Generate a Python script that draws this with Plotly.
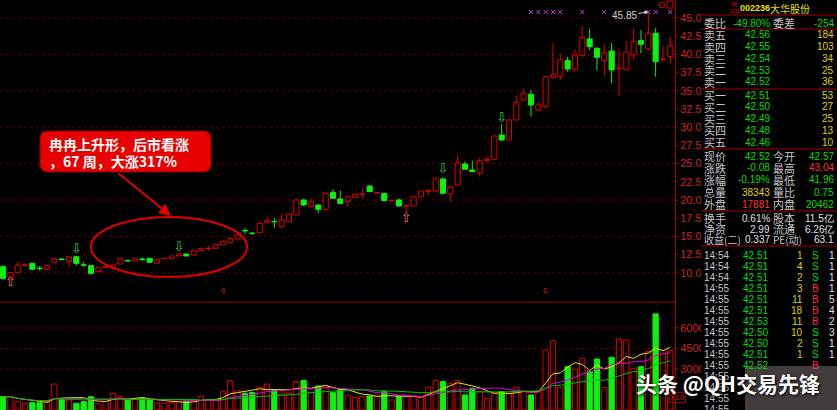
import plotly.graph_objects as go
import pandas as pd

W, H = 837, 410
CJK = "Noto Sans CJK SC"
NUM = "Liberation Sans"

# ---------------- data ----------------
opens = [10.84, 9.38, 10.02, 11.00, 11.30, 10.65, 10.48, 11.44, 11.90, 11.53,
         12.21, 11.10, 10.98, 10.15, 10.75, 10.70, 11.21, 11.70, 11.62, 11.90,
         11.99, 11.30, 11.96, 11.99, 12.31, 12.58, 12.45, 13.04, 13.30, 13.36,
         13.82, 14.14, 14.64, 15.82, 15.45, 15.51, 16.88, 17.05, 16.33, 17.02,
         17.94, 20.00, 19.08, 19.31, 18.72, 21.06, 20.14, 19.77, 20.37, 20.76,
         21.92, 20.96, 20.92, 19.88, 20.00, 19.16, 19.18, 20.45, 21.20, 21.24,
         22.89, 20.82, 22.06, 24.95, 24.12, 23.67, 25.45, 25.59, 28.93, 28.24,
         30.99, 33.74, 34.52, 32.36, 32.82, 36.85, 36.94, 39.14, 37.95, 39.82,
         42.12, 40.84, 39.14, 40.47, 38.05, 37.95, 39.92, 41.89, 40.74, 42.90,
         39.30, 39.69]
highs = [11.00, 10.10, 11.44, 11.30, 11.35, 10.90, 11.05, 12.10, 12.00, 12.30,
         12.30, 11.50, 11.10, 10.75, 10.90, 11.10, 12.10, 11.80, 12.00, 12.10,
         12.00, 11.90, 12.05, 12.35, 12.65, 12.60, 13.10, 13.45, 13.70, 14.00,
         14.40, 14.80, 15.50, 16.20, 15.60, 16.90, 17.60, 17.50, 18.10, 18.20,
         20.20, 20.10, 20.23, 19.40, 21.00, 21.50, 21.30, 20.50, 20.90, 21.60,
         22.00, 21.10, 21.00, 20.00, 20.20, 19.25, 20.50, 21.30, 21.50, 23.00,
         23.10, 21.90, 26.18, 25.30, 25.40, 25.80, 26.00, 28.90, 30.40, 31.10,
         34.40, 35.34, 35.10, 33.50, 37.00, 41.52, 40.15, 39.69, 40.70, 43.80,
         43.45, 41.00, 41.50, 41.60, 40.70, 41.85, 43.60, 43.35, 45.85, 43.60,
         41.20, 42.43]
lows = [9.10, 9.30, 10.00, 10.90, 10.40, 10.30, 10.45, 11.40, 11.70, 10.84,
        11.00, 10.80, 9.80, 10.10, 10.70, 10.65, 11.20, 11.55, 11.60, 11.60,
        11.40, 11.25, 11.90, 11.95, 12.30, 12.28, 12.40, 13.00, 13.00, 13.30,
        13.80, 14.10, 14.60, 15.30, 15.20, 15.50, 16.85, 16.20, 16.20, 17.00,
        17.90, 19.20, 19.00, 18.20, 18.70, 20.20, 19.50, 19.08, 20.30, 20.20,
        21.10, 20.90, 19.85, 19.80, 19.10, 18.17, 19.15, 20.40, 20.60, 21.20,
        20.90, 19.77, 21.90, 24.20, 23.80, 23.20, 25.10, 25.50, 28.10, 28.20,
        30.90, 33.60, 31.45, 32.20, 32.60, 36.70, 36.50, 37.62, 37.62, 39.70,
        40.60, 37.76, 36.94, 36.03, 34.29, 37.80, 39.23, 40.15, 40.60, 36.94,
        39.00, 38.78]
closes = [9.24, 10.02, 11.07, 11.10, 10.48, 10.58, 10.98, 11.94, 11.82, 12.21,
          11.30, 11.05, 9.93, 10.70, 10.85, 11.07, 11.99, 11.62, 11.94, 11.82,
          11.44, 11.85, 12.00, 12.31, 12.58, 12.31, 13.04, 13.36, 13.36, 13.91,
          14.33, 14.69, 15.19, 15.75, 15.40, 16.80, 17.16, 17.00, 17.25, 18.08,
          20.00, 19.31, 19.77, 18.72, 20.92, 20.23, 19.54, 20.45, 20.82, 20.84,
          21.15, 21.02, 19.91, 19.94, 19.18, 19.22, 20.45, 21.24, 21.28, 22.98,
          20.92, 21.83, 25.13, 24.22, 23.89, 25.40, 25.55, 28.79, 28.24, 30.99,
          33.37, 34.66, 33.05, 33.05, 36.94, 37.27, 39.23, 38.00, 39.92, 42.30,
          41.06, 39.60, 40.23, 37.86, 38.12, 40.29, 41.75, 41.39, 42.90, 39.00,
          39.36, 41.20]
volumes = [975, 975, 610, 490, 535, 535, 610, 1900, 780, 730,
           490, 610, 975, 440, 610, 1220, 975, 730, 780, 854,
           780, 535, 490, 535, 610, 610, 730, 1020, 730, 730,
           1340, 2150, 1415, 1220, 1290, 1660, 1900, 1415, 1220, 1220,
           2075, 2150, 1290, 1755, 1755, 1270, 1515, 1100, 930, 975,
           1025, 975, 1340, 730, 1025, 975, 975, 975, 1660, 2150,
           2075, 1950, 2150, 1100, 1585, 1340, 855, 1220, 1340, 1220,
           1660, 1340, 1100, 1340, 4390, 5075, 1660, 3170, 2980, 3780,
           2805, 3730, 1660, 3855, 5200, 5125, 3050, 3170, 4270, 7030,
           4150, 4340]
idx = list(range(len(opens)))

price_ticks = [10.0, 12.5, 15.0, 17.5, 20.0, 22.5, 25.0, 27.5, 30.0, 32.5, 35.0, 37.5, 40.0, 42.5, 45.0]
price_tick_labels = ["10.00", "12.50", "15.00", "17.50", "20.00", "22.50", "25.00", "27.50",
                     "30.00", "32.50", "35.00", "37.50", "40.00", "42.50", "45.00"]
price_grid = [10, 15, 20, 25, 30, 35, 40, 45]
vol_ticks = [3000, 4500, 6000]
vol_tick_labels = ["30000", "45000", "60000"]

buy_signal_idx = [1, 55]
buy_signal_price = [8.67, 17.49]
sell_signal_idx = [10, 24, 60, 68]
sell_signal_price = [13.13, 13.50, 24.12, 31.22]
top_mark_idx = [72, 73, 74, 75, 76, 79, 82, 88, 89, 91]
month_idx = [30, 74]
month_labels = ["6", "6"]

callout_line1 = "冉冉上升形，后市看涨"
callout_line2 = "，67 周，大涨317%"
watermark = "头条 @QH交易先锋"

stock_code = "002236"
stock_name = "大华股份"
weibi = ["委比", "-49.80%", "委差", "-254"]
ask_labels = ["卖五", "卖四", "卖三", "卖二", "卖一"]
ask_prices = ["42.56", "42.55", "42.54", "42.53", "42.52"]
ask_vols = ["184", "103", "34", "25", "36"]
bid_labels = ["买一", "买二", "买三", "买四", "买五"]
bid_prices = ["42.51", "42.50", "42.49", "42.48", "42.46"]
bid_vols = ["53", "27", "25", "13", "10"]
quote_labels_l = ["现价", "涨跌", "涨幅", "总量", "外盘"]
quote_vals_l = ["42.52", "-0.08", "-0.19%", "38343", "17881"]
quote_labels_r = ["今开", "最高", "最低", "量比", "内盘"]
quote_vals_r = ["42.57", "43.04", "41.96", "0.75", "20462"]
fund_labels_l = ["换手", "净资", "收益(二)"]
fund_vals_l = ["0.61%", "2.99", "0.337"]
fund_labels_r = ["股本", "流通", "PE(动)"]
fund_vals_r = ["11.5亿", "6.26亿", "63.1"]
tick_times = ["14:54", "14:54", "14:54", "14:55", "14:55", "14:55", "14:55", "14:55",
              "14:55", "14:55", "14:55", "14:55", "14:55", "14:55", "14:55"]
tick_prices = ["42.51", "42.51", "42.51", "42.51", "42.51", "42.51", "42.53", "42.50",
               "42.50", "42.51", "42.52", "", "", "", ""]
tick_vols = ["1", "4", "2", "3", "11", "18", "11", "10", "2", "1", "", "", "", "", ""]
tick_sides = ["S", "S", "S", "B", "B", "B", "B", "S", "S", "S", "B", "", "", "", ""]
tick_counts = ["1", "1", "1", "1", "5", "4", "2", "3", "1", "1", "", "", "", "", ""]

# ---------------- styling / layout constants ----------------
RED = "#e00000"
DRED = "#a00000"
GRID = "#5a0000"
GREEN = "#10f010"
TXT_GREEN = "#00dd00"
YELLOW = "#e0d000"
LABEL = "#c8c8c8"
PLOT_R = 675          # right edge of the chart area (px)
SPLIT = 302           # boundary between price and volume panes (px)
X_RANGE = [-0.41, 91.64]
P_RANGE = [5.99, 47.47]
V_RANGE = [0, 7900]


def pxx(x):
    return x / W


def pxy(y):
    return 1 - y / H


def price_at(y):
    return P_RANGE[1] - (P_RANGE[1] - P_RANGE[0]) * y / SPLIT


fig = go.Figure()

up = [c > o for o, c in zip(opens, closes)]

# volume bars
vcol = [("rgba(0,0,0,1)" if u else GREEN) for u in up]
vline = [(RED if u else GREEN) for u in up]
fig.add_trace(go.Bar(x=idx, y=volumes, width=0.72, yaxis="y2",
                     marker=dict(color=vcol, line=dict(color=vline, width=1)),
                     hoverinfo="skip"))
vs = pd.Series(volumes)
for n, col in [(5, "#e8e800"), (10, "#e000e0"), (20, "#00c000")]:
    fig.add_trace(go.Scatter(x=idx, y=vs.rolling(n, min_periods=1).mean(), yaxis="y2",
                             mode="lines", line=dict(color=col, width=1), hoverinfo="skip"))

# candle wicks (segments outside the body)
for flag, col in [(True, RED), (False, GREEN)]:
    wx, wy = [], []
    for i in idx:
        if up[i] != flag:
            continue
        top = max(opens[i], closes[i])
        bot = min(opens[i], closes[i])
        wx += [i, i, None, i, i, None]
        wy += [highs[i], top, None, bot, lows[i], None]
    fig.add_trace(go.Scatter(x=wx, y=wy, mode="lines", line=dict(color=col, width=1),
                             hoverinfo="skip", connectgaps=False))

# candle bodies
body_base = [min(o, c) for o, c in zip(opens, closes)]
body_h = [abs(c - o) for o, c in zip(opens, closes)]
fig.add_trace(go.Bar(x=idx, y=body_h, base=body_base, width=0.7,
                     marker=dict(color=vcol, line=dict(color=vline, width=1)),
                     hoverinfo="skip"))

# signal markers
fig.add_trace(go.Scatter(x=sell_signal_idx, y=sell_signal_price, mode="text", text=["⇩"] * len(sell_signal_idx),
                         textfont=dict(color="#30d030", size=13, family="DejaVu Sans"), hoverinfo="skip"))
fig.add_trace(go.Scatter(x=buy_signal_idx, y=buy_signal_price, mode="text", text=["⇧"] * len(buy_signal_idx),
                         textfont=dict(color="#ff6a6a", size=13, family="DejaVu Sans"), hoverinfo="skip"))
fig.add_trace(go.Scatter(x=top_mark_idx, y=[price_at(12)] * len(top_mark_idx), mode="markers",
                         marker=dict(symbol="x-thin-open", size=4, color="#c040d0",
                                     line=dict(width=1, color="#c040d0")), hoverinfo="skip"))

shapes = []
for g in price_grid:
    shapes.append(dict(type="line", xref="paper", yref="y", x0=0, x1=pxx(PLOT_R), y0=g, y1=g,
                       line=dict(color=GRID, width=1, dash="dot"), layer="below"))
for g in vol_ticks:
    shapes.append(dict(type="line", xref="paper", yref="y2", x0=0, x1=pxx(PLOT_R), y0=g, y1=g,
                       line=dict(color=GRID, width=1, dash="dot"), layer="below"))
shapes.append(dict(type="line", xref="paper", yref="paper", x0=0, x1=pxx(PLOT_R),
                   y0=pxy(SPLIT), y1=pxy(SPLIT), line=dict(color=DRED, width=1)))

# order book panel
shapes.append(dict(type="rect", xref="paper", yref="paper", x0=pxx(701), x1=1, y0=0, y1=1,
                   fillcolor="black", line=dict(width=0), layer="above"))
for ly in [15, 29, 89, 149, 211, 246]:
    shapes.append(dict(type="line", xref="paper", yref="paper", x0=pxx(701), x1=1,
                       y0=pxy(ly), y1=pxy(ly), line=dict(color=DRED, width=1), layer="above"))

# top-right small markers
shapes.append(dict(type="circle", xref="paper", yref="paper", x0=pxx(659), x1=pxx(665),
                   y0=pxy(8), y1=pxy(2), line=dict(color=RED, width=1), layer="above"))
shapes.append(dict(type="rect", xref="paper", yref="paper", x0=pxx(667), x1=pxx(673),
                   y0=pxy(8), y1=pxy(1), line=dict(color=RED, width=1), layer="above"))

# callout rounded box
bx0, bx1, by0, by1, r = 40, 211, 131, 172, 8


def P(x, y):
    return f"{pxx(x):.5f},{pxy(y):.5f}"


path = (f"M {P(bx0 + r, by0)} L {P(bx1 - r, by0)} Q {P(bx1, by0)} {P(bx1, by0 + r)} "
        f"L {P(bx1, by1 - r)} Q {P(bx1, by1)} {P(bx1 - r, by1)} L {P(bx0 + r, by1)} "
        f"Q {P(bx0, by1)} {P(bx0, by1 - r)} L {P(bx0, by0 + r)} Q {P(bx0, by0)} {P(bx0 + r, by0)} Z")
shapes.append(dict(type="path", xref="paper", yref="paper", path=path,
                   fillcolor="#e80000", line=dict(color="#8a0000", width=1), layer="above"))
# ellipse
shapes.append(dict(type="circle", xref="paper", yref="paper", x0=pxx(91), x1=pxx(247),
                   y0=pxy(277), y1=pxy(217), line=dict(color="#e00000", width=2), layer="above"))
# watermark backdrop
shapes.append(dict(type="rect", xref="paper", yref="paper", x0=pxx(745), x1=1, y0=0, y1=pxy(366),
                   fillcolor="rgba(120,110,110,0.55)", line=dict(width=0), layer="above"))

ann = []


def txt(x, y, s, color, size=11, anchor="left", family=CJK):
    ann.append(dict(x=pxx(x), y=pxy(y), xref="paper", yref="paper", text=s, showarrow=False,
                    xanchor=anchor, yanchor="middle", borderpad=0,
                    font=dict(color=color, size=size, family=family)))


# callout text + arrow
txt(48, 144, "<b>" + callout_line1 + "</b>", "white", 14)
txt(48, 161, "<b>" + callout_line2 + "</b>", "white", 14)
ann.append(dict(x=pxx(171), y=pxy(216), xref="paper", yref="paper", ax=-54, ay=-44,
                axref="pixel", ayref="pixel", text="", showarrow=True, arrowhead=2,
                arrowsize=1.2, arrowwidth=2, arrowcolor="#e00000"))

# max price label
imax = max(idx, key=lambda i: highs[i])
ann.append(dict(x=imax, y=highs[imax], xref="x", yref="y", text=f"{highs[imax]:.2f}",
                showarrow=True, ax=-24, ay=4, arrowhead=2, arrowsize=0.8, arrowwidth=1,
                arrowcolor="#d0d0d0", font=dict(color="#d0d0d0", size=10, family=NUM)))

# month markers
for mi, ml in zip(month_idx, month_labels):
    ann.append(dict(x=mi, y=pxy(297), xref="x", yref="paper", text=ml, showarrow=False,
                    font=dict(color="#c02020", size=8, family=NUM)))

# volume unit box
ann.append(dict(x=pxx(686), y=pxy(403), xref="paper", yref="paper", text="X10", showarrow=False,
                font=dict(color="#c02020", size=8, family=NUM), bordercolor=DRED, borderwidth=1,
                borderpad=0))

# order book header
txt(731, 4, "R", RED, 7, family=NUM)
txt(729, 11, "300", RED, 6, family=NUM)
txt(739, 8, "<b>" + stock_code + "</b>", "#e8e000", 9, family=NUM)
txt(769, 8, stock_name, "#e8e000", 10)
txt(703, 23, weibi[0], LABEL)
txt(771, 23, weibi[1], TXT_GREEN, 10, "right", NUM)
txt(772, 23, weibi[2], LABEL)
txt(835, 23, weibi[3], TXT_GREEN, 10, "right", NUM)
for k in range(5):
    y = 35 + 11.75 * k
    txt(703, y, ask_labels[k], LABEL)
    txt(771, y, ask_prices[k], TXT_GREEN, 10, "right", NUM)
    txt(835, y, ask_vols[k], YELLOW, 10, "right", NUM)
    y = 95 + 11.75 * k
    txt(703, y, bid_labels[k], LABEL)
    txt(771, y, bid_prices[k], TXT_GREEN, 10, "right", NUM)
    txt(835, y, bid_vols[k], YELLOW, 10, "right", NUM)
ql_col = [TXT_GREEN, TXT_GREEN, TXT_GREEN, YELLOW, "#ff3030"]
qr_col = [TXT_GREEN, "#ff3030", TXT_GREEN, TXT_GREEN, TXT_GREEN]
for k in range(5):
    y = 156 + 12 * k
    txt(703, y, quote_labels_l[k], LABEL)
    txt(771, y, quote_vals_l[k], ql_col[k], 10, "right", NUM)
    txt(772, y, quote_labels_r[k], LABEL)
    txt(835, y, quote_vals_r[k], qr_col[k], 10, "right", NUM)
for k in range(3):
    y = 218 + 11 * k
    txt(703, y, fund_labels_l[k], LABEL, 10 if k == 2 else 11)
    txt(771, y, fund_vals_l[k], "#e0e0e0", 10, "right", NUM)
    txt(772, y, fund_labels_r[k], LABEL, 10 if k == 2 else 11)
    txt(835, y, fund_vals_r[k], "#e0e0e0", 10, "right", NUM)
for k in range(len(tick_times)):
    y = 255 + 11 * k
    txt(703, y, tick_times[k], LABEL, 10, family=NUM)
    if tick_prices[k]:
        txt(769, y, tick_prices[k], TXT_GREEN, 10, "right", NUM)
    if tick_vols[k]:
        txt(804, y, tick_vols[k], YELLOW, 10, "right", NUM)
    if tick_sides[k]:
        txt(811, y, tick_sides[k], TXT_GREEN if tick_sides[k] == "S" else "#ff3030", 10, family=NUM)
    if tick_counts[k]:
        txt(836, y, tick_counts[k], "#e0e0e0", 10, "right", NUM)

# watermark
ann.append(dict(x=pxx(634), y=pxy(383), xref="paper", yref="paper", text="<b>" + watermark + "</b>",
                showarrow=False, xanchor="left", yanchor="middle",
                font=dict(color="white", size=21, family=CJK, shadow="1px 1px 3px black")))

fig.update_layout(
    width=W, height=H, margin=dict(l=0, r=0, t=0, b=0),
    paper_bgcolor="black", plot_bgcolor="black", showlegend=False, barmode="overlay",
    xaxis=dict(domain=[0, pxx(PLOT_R)], range=X_RANGE, showgrid=False, zeroline=False,
               showticklabels=False, ticks="", anchor="y2"),
    yaxis=dict(domain=[pxy(SPLIT), 1], range=P_RANGE, side="right", anchor="x",
               tickvals=price_ticks, ticktext=price_tick_labels, showgrid=False, zeroline=False,
               ticks="outside", ticklen=2, tickcolor=DRED, showline=True, linecolor=DRED,
               tickfont=dict(color="#d02020", size=11, family=NUM)),
    yaxis2=dict(domain=[0, pxy(SPLIT)], range=V_RANGE, side="right", anchor="x",
                tickvals=vol_ticks, ticktext=vol_tick_labels, showgrid=False, zeroline=False,
                ticks="outside", ticklen=2, tickcolor=DRED, showline=True, linecolor=DRED,
                tickfont=dict(color="#d02020", size=11, family=NUM)),
    shapes=shapes, annotations=ann,
)

fig.write_html("out.html", config={"displayModeBar": False},
               post_script="document.body.style.margin='0';document.body.style.background='black';")
